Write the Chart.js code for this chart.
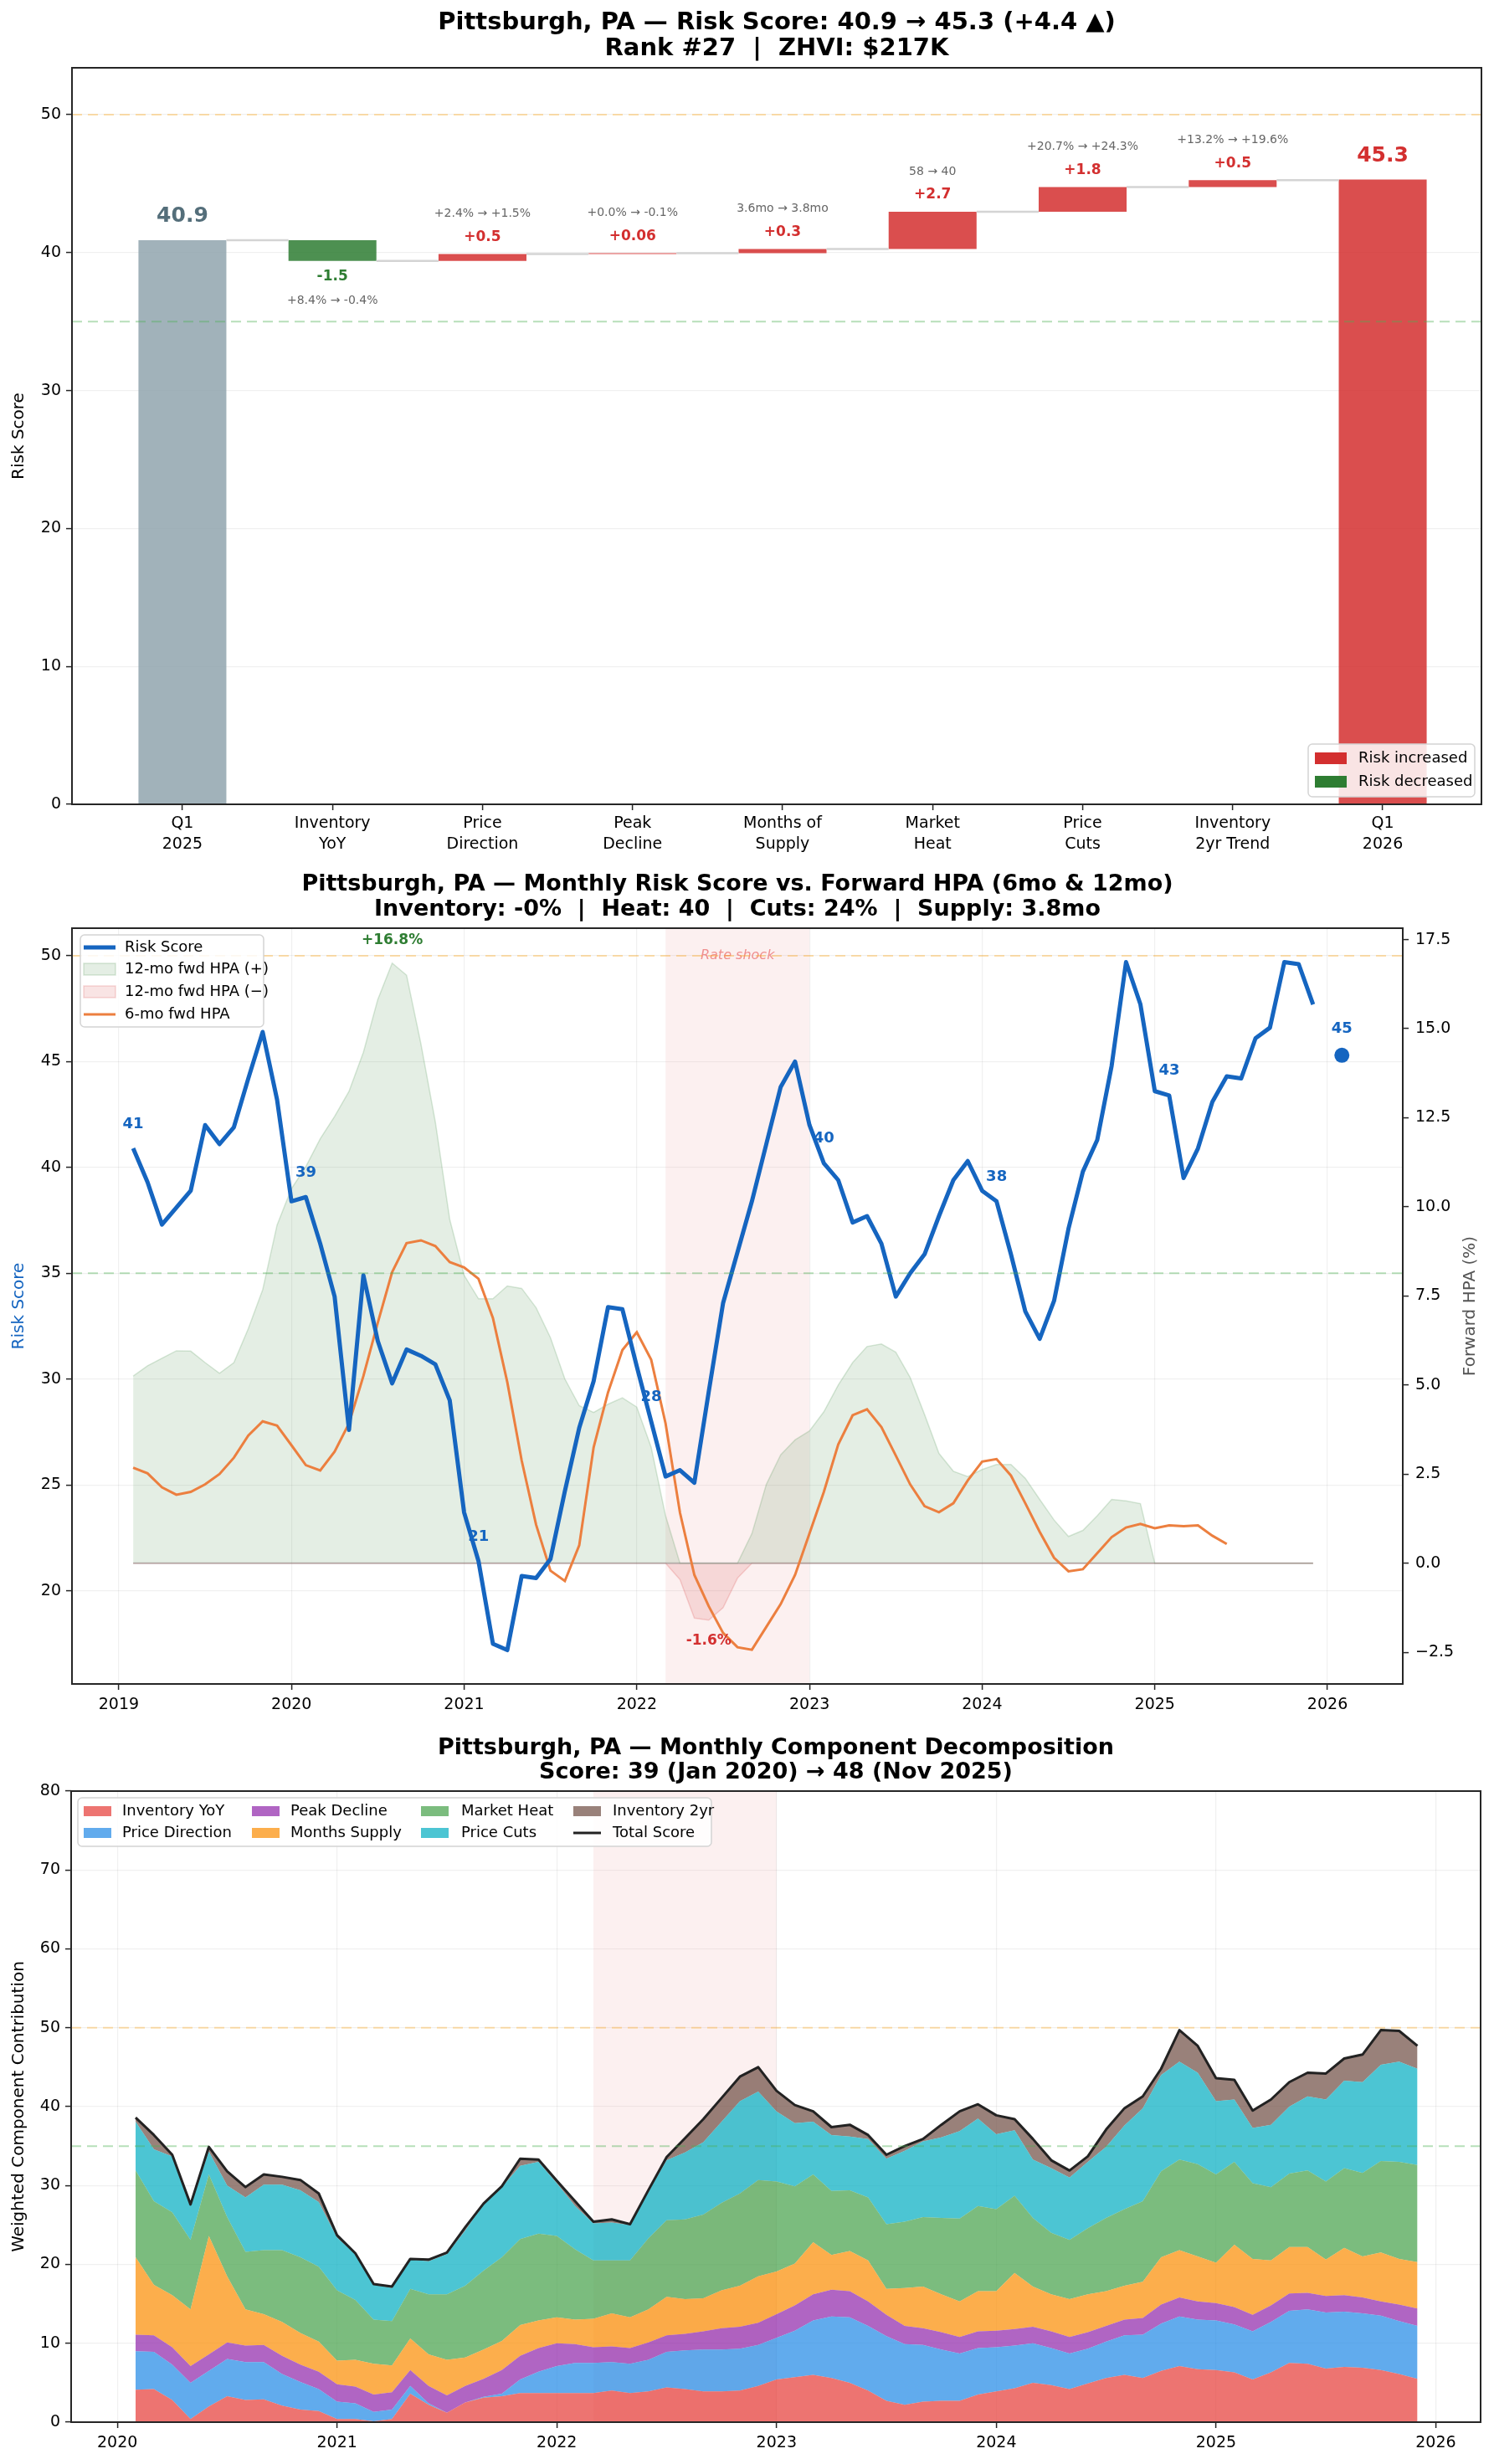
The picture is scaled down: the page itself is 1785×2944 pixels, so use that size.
<!DOCTYPE html>
<html>
<head>
<meta charset="utf-8">
<script src="https://cdn.jsdelivr.net/npm/chart.js@4.4.1/dist/chart.umd.min.js"></script>
<style>
  html, body { margin: 0; padding: 0; background: #fff; }
  #wrap { position: relative; width: 1785px; height: 2944px; }
  canvas { position: absolute; left: 0; }
</style>
</head>
<body>
<div id="wrap">
  <canvas id="waterfall" width="1785" height="1030" style="top:0"></canvas>
  <canvas id="history" width="1785" height="1035" style="top:1030px"></canvas>
  <canvas id="components" width="1785" height="879" style="top:2065px"></canvas>
</div>
<script>
// ---------- waterfall: Q1 2025 -> Q1 2026 ----------
const metro = 'Pittsburgh, PA';
const startScore = 40.9;
const endScore = 45.3;
const stepNames = [['Q1', '2025'], ['Inventory', 'YoY'], ['Price', 'Direction'], ['Peak', 'Decline'],
  ['Months of', 'Supply'], ['Market', 'Heat'], ['Price', 'Cuts'], ['Inventory', '2yr Trend'], ['Q1', '2026']];
const stepDeltas = [-1.5, 0.5, 0.06, 0.3, 2.7, 1.8, 0.5];
const stepNotes = ['+8.4% → -0.4%', '+2.4% → +1.5%', '+0.0% → -0.1%', '3.6mo → 3.8mo',
  '58 → 40', '+20.7% → +24.3%', '+13.2% → +19.6%'];

// ---------- monthly history, Jan 2019 .. Nov 2025 ----------
const firstYear = 2019;
const riskScore = [40.9, 39.3, 37.3, 38.1, 38.9, 42.0, 41.1, 41.9, 44.2, 46.4,
  43.2, 38.4, 38.6, 36.4, 33.9, 27.6, 34.9, 31.8, 29.8, 31.4,
  31.1, 30.7, 29.0, 23.7, 21.4, 17.5, 17.2, 20.7, 20.6, 21.5,
  24.7, 27.7, 29.9, 33.4, 33.3, 30.6, 28.0, 25.4, 25.7, 25.1,
  29.4, 33.6, 36.0, 38.4, 41.1, 43.8, 45.0, 42.0, 40.2, 39.4,
  37.4, 37.7, 36.4, 33.9, 35.0, 35.9, 37.7, 39.4, 40.3, 38.9,
  38.4, 35.9, 33.2, 31.9, 33.7, 37.1, 39.8, 41.3, 44.8, 49.7,
  47.7, 43.6, 43.4, 39.5, 40.9, 43.1, 44.3, 44.2, 46.1, 46.6,
  49.7, 49.6, 47.7];
// 12-month forward HPA (%), zero once the forward window runs past the data
const hpa12 = [5.25, 5.54, 5.75, 5.96, 5.95, 5.63, 5.33, 5.63, 6.58, 7.67,
  9.49, 10.51, 11.13, 11.91, 12.54, 13.24, 14.34, 15.82, 16.84, 16.5,
  14.57, 12.38, 9.65, 8.08, 7.42, 7.42, 7.78, 7.71, 7.17, 6.33,
  5.17, 4.42, 4.23, 4.46, 4.64, 4.38, 3.25, 1.33, -0.46, -1.54,
  -1.6, -1.25, -0.42, 0.83, 2.21, 3.04, 3.46, 3.71, 4.25, 5.0,
  5.63, 6.08, 6.15, 5.92, 5.21, 4.17, 3.08, 2.58, 2.43, 2.63,
  2.77, 2.77, 2.38, 1.79, 1.21, 0.75, 0.92, 1.33, 1.79, 1.75,
  1.67, 0, 0, 0, 0, 0, 0, 0, 0, 0,
  0, 0, 0];
const hpa6 = [2.68, 2.52, 2.13, 1.92, 2.0, 2.21, 2.5, 2.96, 3.58, 3.98,
  3.86, 3.31, 2.75, 2.6, 3.13, 3.92, 5.25, 6.75, 8.17, 8.98,
  9.06, 8.9, 8.45, 8.3, 7.98, 6.88, 5.08, 2.88, 1.08, -0.21,
  -0.5, 0.5, 3.25, 4.79, 5.98, 6.48, 5.71, 3.92, 1.42, -0.33,
  -1.21, -1.96, -2.36, -2.43, -1.79, -1.15, -0.33, 0.83, 2.0, 3.33,
  4.15, 4.32, 3.82, 3.02, 2.21, 1.6, 1.43, 1.68, 2.32, 2.85,
  2.92, 2.46, 1.68, 0.88, 0.15, -0.23, -0.17, 0.28, 0.73, 1.0,
  1.1, 0.98, 1.06, 1.04, 1.06, 0.77, 0.54];
const currentMonth = { year: 2026, month: 1 };
const currentScore = 45.3;
const rateShock = { from: { year: 2022, month: 3 }, to: { year: 2023, month: 1 } };

// ---------- weighted components, Jan 2020 .. Nov 2025 ----------
const componentStart = 12; // months after Jan 2019
const inventoryYoY = [4.1, 4.2, 2.8, 0.4, 2.0, 3.3, 2.8, 2.9, 2.1, 1.6, 1.4, 0.4, 0.4, 0.1, 0.4, 3.6, 2.2, 1.2,
  2.5, 3.1, 3.3, 3.7, 3.7, 3.7, 3.7, 3.7, 4.0, 3.7, 3.9, 4.4, 4.2, 3.9, 3.9,
  4.0, 4.6, 5.4, 5.7, 6.0, 5.6, 5.0, 4.0, 2.7, 2.2, 2.6, 2.7, 2.7, 3.5, 3.9, 4.3, 5.0, 4.7, 4.2,
  4.9, 5.6, 6.0, 5.6, 6.5, 7.1, 6.7, 6.6, 6.3, 5.4, 6.3, 7.5, 7.4, 6.8, 7.0, 6.9, 6.6, 6.1, 5.5];
const priceDirection = [4.9, 4.7, 4.5, 4.6, 4.5, 4.7, 4.8, 4.7, 4.0, 3.5, 2.8, 2.2, 2.0, 1.2, 1.2, 1.0, 0.2, 0.0,
  0.0, 0.1, 0.3, 1.7, 2.7, 3.4, 3.8, 3.8, 3.6, 3.7, 4.0, 4.5, 4.9, 5.3, 5.3,
  5.3, 5.2, 5.3, 5.9, 6.9, 7.8, 8.3, 8.2, 8.2, 7.7, 7.2, 6.5, 6.0, 5.9, 5.6, 5.4, 5.0, 4.7, 4.5,
  4.4, 4.6, 5.0, 5.5, 6.0, 6.3, 6.3, 6.3, 6.1, 6.1, 6.4, 6.6, 6.9, 7.1, 7.0, 6.9, 6.9, 6.7, 6.7];
const peakDecline = [2.1, 2.1, 2.2, 2.1, 2.1, 2.1, 2.1, 2.2, 2.3, 2.2, 2.2, 2.2, 2.1, 2.2, 2.2, 2.0, 2.2, 2.2,
  2.1, 2.3, 3.0, 3.0, 3.0, 2.9, 2.4, 2.0, 2.0, 2.0, 2.2, 2.1, 2.1, 2.3, 2.7,
  2.8, 2.8, 3.0, 3.2, 3.3, 3.4, 3.3, 3.1, 2.7, 2.3, 2.1, 2.2, 2.1, 2.1, 2.1, 2.1, 2.1, 2.1, 2.1,
  2.1, 2.0, 2.0, 2.1, 2.4, 2.4, 2.3, 2.2, 2.2, 2.1, 2.1, 2.2, 2.1, 2.1, 2.1, 2.0, 1.8, 2.1, 2.2];
const monthsSupply = [9.8, 6.4, 6.6, 7.2, 15.0, 8.4, 4.6, 3.9, 4.3, 4.0, 3.8, 3.0, 3.4, 3.9, 3.4, 4.0, 4.0, 4.5,
  3.6, 3.7, 3.7, 3.9, 3.5, 3.3, 3.1, 3.6, 4.2, 3.9, 4.2, 4.9, 4.4, 4.2, 4.8,
  5.2, 5.9, 5.4, 5.3, 6.6, 4.4, 5.1, 5.2, 3.3, 4.8, 5.3, 4.8, 4.5, 5.1, 5.0, 7.1, 5.1, 4.7, 4.8,
  4.8, 4.4, 4.3, 4.6, 6.0, 6.0, 5.7, 5.1, 7.9, 7.1, 5.7, 5.9, 5.8, 4.6, 6.0, 5.2, 6.2, 5.8, 5.9];
const marketHeat = [11.0, 10.6, 10.5, 8.8, 7.8, 7.5, 7.3, 8.1, 9.1, 9.6, 9.5, 8.9, 7.6, 5.6, 5.6, 6.3, 7.6, 8.3,
  9.1, 10.0, 10.6, 10.9, 11.0, 10.3, 8.9, 7.4, 6.7, 7.2, 9.0, 9.7, 10.1, 10.6, 11.1,
  11.7, 12.2, 11.4, 9.8, 8.6, 8.1, 7.7, 8.0, 8.2, 8.4, 8.8, 9.7, 10.5, 10.8, 10.4, 9.8, 8.7, 7.8, 7.5,
  8.4, 9.3, 9.7, 10.2, 10.9, 11.5, 11.7, 11.2, 10.5, 9.6, 9.3, 9.3, 9.7, 9.9, 10.1, 10.6, 11.6, 12.3, 12.3];
const priceCuts = [6.2, 6.6, 7.1, 4.5, 2.9, 4.0, 6.9, 8.3, 8.3, 8.5, 8.2, 6.7, 5.8, 4.4, 4.2, 3.7, 4.2, 5.1,
  7.0, 8.4, 8.9, 9.3, 9.1, 6.7, 5.5, 4.7, 4.8, 4.5, 5.9, 7.6, 8.5, 9.2, 10.3,
  11.7, 11.2, 8.9, 8.0, 6.7, 7.1, 6.8, 7.4, 8.3, 9.0, 9.6, 10.2, 11.1, 11.1, 9.5, 8.3, 7.4, 8.2, 7.9,
  8.4, 9.0, 10.6, 11.8, 12.2, 12.4, 11.6, 9.3, 7.9, 7.0, 7.9, 8.5, 9.4, 10.4, 11.1, 11.5, 12.2, 12.7, 12.2];
const inventory2yr = [0.6, 1.8, 0.2, 0.0, 0.6, 1.8, 1.3, 1.3, 1.0, 1.3, 1.1, 0.3, 0.1, 0.1, 0.2, 0.1, 0.2, 0.2,
  0.4, 0.1, 0.1, 0.9, 0.3, 0.3, 0.6, 0.2, 0.4, 0.1, 0.2, 0.4, 1.8, 2.9, 3.0,
  3.1, 3.1, 2.6, 2.4, 1.3, 1.1, 1.4, 0.5, 0.5, 0.6, 0.4, 1.6, 2.4, 1.8, 2.3, 1.4, 2.5, 1.0, 0.8,
  0.7, 2.3, 2.2, 1.5, 0.8, 4.1, 3.3, 2.9, 2.5, 2.2, 3.2, 3.1, 3.1, 3.4, 2.8, 3.5, 4.3, 4.0, 2.8];

// ---------- styling helpers ----------
const FAMILY = '"DejaVu Sans", sans-serif';
const AXIS = '#262626';
const GRID = 'rgba(0,0,0,0.06)';
const UP = '#d32f2f';
const DOWN = '#2e7d32';
const BLUE = '#1565c0';
const ORANGE = '#ec7f3f';
const SHOCK = 'rgba(211,47,47,0.075)';
Chart.defaults.font.family = FAMILY;
Chart.defaults.color = '#000';

const monthX = (i) => firstYear + (i + 1) / 12;   // month-end as decimal year
const ymX = (d) => d.year + (d.month - 1) / 12;

function put(ctx, str, x, y, size, color, weight = 'normal', align = 'center', style = 'normal') {
  ctx.save();
  ctx.font = `${style} ${weight} ${size}px ${FAMILY}`;
  ctx.fillStyle = color;
  ctx.textAlign = align;
  ctx.textBaseline = 'middle';
  ctx.fillText(str, x, y);
  ctx.restore();
}

function thresholds(ctx, a, y) {
  [[50, 'rgba(255,160,0,0.32)'], [35, 'rgba(76,175,80,0.4)']].forEach(([v, c]) => {
    const py = y.getPixelForValue(v);
    ctx.save();
    ctx.strokeStyle = c;
    ctx.lineWidth = 2;
    ctx.setLineDash([12, 7]);
    ctx.beginPath();
    ctx.moveTo(a.left, py);
    ctx.lineTo(a.right, py);
    ctx.stroke();
    ctx.restore();
  });
}

function legendBox(ctx, x, y, w, h) {
  ctx.save();
  ctx.beginPath();
  ctx.roundRect(x, y, w, h, 5);
  ctx.fillStyle = 'rgba(255,255,255,0.85)';
  ctx.fill();
  ctx.strokeStyle = '#d4d4d4';
  ctx.lineWidth = 1.5;
  ctx.stroke();
  ctx.restore();
}

function legendItem(ctx, item, x, y, w, h, tx) {
  ctx.save();
  if (item.line) {
    ctx.strokeStyle = item.line;
    ctx.lineWidth = item.width;
    ctx.beginPath();
    ctx.moveTo(x, y);
    ctx.lineTo(x + w, y);
    ctx.stroke();
  } else {
    ctx.fillStyle = item.fill;
    ctx.fillRect(x, y - h / 2, w, h);
    if (item.edge) {
      ctx.strokeStyle = item.edge;
      ctx.lineWidth = 1.5;
      ctx.strokeRect(x, y - h / 2, w, h);
    }
  }
  ctx.restore();
  put(ctx, item.label, tx, y, 18, '#000', 'normal', 'left');
}

const frame = {
  id: 'frame',
  afterDraw(chart) {
    const { ctx, chartArea: a } = chart;
    ctx.save();
    ctx.strokeStyle = AXIS;
    ctx.lineWidth = 2;
    ctx.strokeRect(a.left, a.top, a.right - a.left, a.bottom - a.top);
    ctx.restore();
  }
};

function titles(lines, ys, size = 27) {
  return {
    id: 'titles',
    afterDraw(chart) {
      const a = chart.chartArea;
      lines.forEach((t, i) => put(chart.ctx, t, (a.left + a.right) / 2, ys[i], size, '#000', 'bold'));
    }
  };
}

const grid = (onArea) => ({ drawOnChartArea: onArea, color: GRID, lineWidth: 1.2, tickLength: 7, tickColor: AXIS, tickWidth: 1.5 });
const tickFont = { family: FAMILY, size: 19 };
const base = {
  responsive: false,
  animation: false,
  devicePixelRatio: 1,
  events: [],
};
const noLegend = { legend: { display: false }, tooltip: { enabled: false } };

// ---------- chart 1: waterfall ----------
const waterfall = [{ x: 0, y: [0, startScore] }];
const barColors = ['rgba(144,164,174,0.85)'];
let running = startScore;
stepDeltas.forEach((d, i) => {
  waterfall.push({ x: i + 1, y: [running, running + d] });
  barColors.push(d >= 0 ? 'rgba(211,47,47,0.85)' : 'rgba(46,125,50,0.85)');
  running += d;
});
waterfall.push({ x: stepNames.length - 1, y: [0, endScore] });
barColors.push('rgba(211,47,47,0.85)');

const waterfallDecor = {
  id: 'waterfallDecor',
  afterDatasetsDraw(chart) {
    const { ctx, chartArea: a, scales: { y } } = chart;
    thresholds(ctx, a, y);
    const bars = chart.getDatasetMeta(0).data;
    ctx.save();
    ctx.strokeStyle = '#d4d4d4';
    ctx.lineWidth = 2.5;
    for (let i = 0; i < bars.length - 1; i++) {
      const py = y.getPixelForValue(waterfall[i].y[1]);
      ctx.beginPath();
      ctx.moveTo(bars[i].x + bars[i].width / 2, py);
      ctx.lineTo(bars[i + 1].x - bars[i + 1].width / 2, py);
      ctx.stroke();
    }
    ctx.restore();
    bars.forEach((bar, i) => {
      const top = Math.min(bar.y, bar.base), bottom = Math.max(bar.y, bar.base);
      if (i === 0) {
        put(ctx, startScore.toFixed(1), bar.x, top - 28, 25, '#546e7a', 'bold');
      } else if (i === bars.length - 1) {
        put(ctx, endScore.toFixed(1), bar.x, top - 28, 25, UP, 'bold');
      } else {
        const d = stepDeltas[i - 1];
        const label = (d > 0 ? '+' : '') + d;
        if (d >= 0) {
          put(ctx, label, bar.x, top - 20, 17, UP, 'bold');
          put(ctx, stepNotes[i - 1], bar.x, top - 48, 14, '#666');
        } else {
          put(ctx, label, bar.x, bottom + 19, 17, DOWN, 'bold');
          put(ctx, stepNotes[i - 1], bar.x, bottom + 48, 14, '#666');
        }
      }
    });
    const lx = a.right - 207, ly = a.bottom - 72;
    legendBox(ctx, lx, ly, 199, 63);
    legendItem(ctx, { label: 'Risk increased', fill: UP }, lx + 8, ly + 17, 38, 14, lx + 60);
    legendItem(ctx, { label: 'Risk decreased', fill: DOWN }, lx + 8, ly + 45, 38, 14, lx + 60);
  }
};

new Chart(document.getElementById('waterfall'), {
  type: 'bar',
  data: {
    datasets: [{
      data: waterfall,
      backgroundColor: barColors,
      borderWidth: 0,
      barPercentage: 0.586,
      categoryPercentage: 1
    }]
  },
  options: {
    ...base,
    layout: { padding: { left: 0, right: 15, top: 81, bottom: 0 } },
    plugins: noLegend,
    scales: {
      x: {
        type: 'linear', min: -0.736, max: 8.658, offset: false,
        afterFit: (s) => { s.height = 69; },
        grid: { ...grid(false), offset: false },
        border: { display: false },
        ticks: {
          stepSize: 1, includeBounds: false, autoSkip: false, maxRotation: 0, minRotation: 0, padding: 4,
          color: '#000', font: { ...tickFont, lineHeight: 1.3 },
          callback: (v) => stepNames[v] || ''
        }
      },
      y: {
        min: 0, max: 53.4,
        afterFit: (s) => { s.width = 86; },
        grid: grid(true),
        border: { display: false },
        ticks: { stepSize: 10, includeBounds: false, padding: 6, color: '#000', font: tickFont },
        title: { display: true, text: 'Risk Score', color: '#000', font: { family: FAMILY, size: 20 }, padding: { top: 11, bottom: 0 } }
      }
    }
  },
  plugins: [waterfallDecor, frame,
    titles([`${metro} — Risk Score: ${startScore} → ${endScore} (+${(endScore - startScore).toFixed(1)} ▲)`,
      'Rank #27  |  ZHVI: $217K'], [27, 58], 29)]
});

// ---------- chart 2: monthly risk score vs forward HPA ----------
const historyX = riskScore.map((_, i) => monthX(i));
const pts = (arr, xs) => arr.map((v, i) => ({ x: xs[i], y: v }));
const currentX = ymX(currentMonth) + 1 / 12;

const historyDecor = {
  id: 'historyDecor',
  beforeDatasetsDraw(chart) {
    const { ctx, chartArea: a, scales: { x } } = chart;
    const x0 = x.getPixelForValue(ymX(rateShock.from)), x1 = x.getPixelForValue(ymX(rateShock.to));
    ctx.save();
    ctx.fillStyle = SHOCK;
    ctx.fillRect(x0, a.top, x1 - x0, a.bottom - a.top);
    ctx.restore();
    put(ctx, 'Rate shock', (x0 + x1) / 2, a.top + 33, 16, '#ef8f8f', 'normal', 'center', 'italic');
  },
  afterDatasetsDraw(chart) {
    const { ctx, chartArea: a, scales: { x, y, y1 } } = chart;
    thresholds(ctx, a, y);
    for (let m = 0; m < riskScore.length; m += 12) {
      put(ctx, String(Math.round(riskScore[m])), x.getPixelForValue(historyX[m]),
        y.getPixelForValue(riskScore[m]) - 29, 18, BLUE, 'bold');
    }
    put(ctx, String(Math.round(currentScore)), x.getPixelForValue(currentX), y.getPixelForValue(currentScore) - 31, 18, BLUE, 'bold');
    const hi = hpa12.indexOf(Math.max(...hpa12)), lo = hpa12.indexOf(Math.min(...hpa12));
    put(ctx, '+' + hpa12[hi].toFixed(1) + '%', x.getPixelForValue(historyX[hi]), y1.getPixelForValue(hpa12[hi]) - 27, 17, DOWN, 'bold');
    put(ctx, hpa12[lo].toFixed(1) + '%', x.getPixelForValue(historyX[lo]), y1.getPixelForValue(hpa12[lo]) + 25, 17, UP, 'bold');

    const lx = a.left + 10, ly = a.top + 8;
    legendBox(ctx, lx, ly, 219, 110);
    legendItem(ctx, { label: 'Risk Score', line: BLUE, width: 5 }, lx + 4, ly + 15, 38, 0, lx + 53);
    legendItem(ctx, { label: '12-mo fwd HPA (+)', fill: 'rgba(46,125,50,0.13)', edge: 'rgba(46,125,50,0.18)' }, lx + 4, ly + 41, 38, 14, lx + 53);
    legendItem(ctx, { label: '12-mo fwd HPA (−)', fill: 'rgba(211,47,47,0.13)', edge: 'rgba(211,47,47,0.18)' }, lx + 4, ly + 68, 38, 14, lx + 53);
    legendItem(ctx, { label: '6-mo fwd HPA', line: ORANGE, width: 3 }, lx + 4, ly + 95, 38, 0, lx + 53);
  },
  afterDraw(chart) {
    const { ctx, chartArea: a } = chart;
    ctx.save();
    ctx.translate(1757, (a.top + a.bottom) / 2);
    ctx.rotate(-Math.PI / 2);
    put(ctx, 'Forward HPA (%)', 0, 0, 20, '#555');
    ctx.restore();
  }
};

new Chart(document.getElementById('history'), {
  type: 'line',
  data: {
    datasets: [
      { label: 'Risk Score', data: pts(riskScore, historyX), yAxisID: 'y', borderColor: BLUE, borderWidth: 5,
        borderJoinStyle: 'round', pointRadius: 0, order: 0 },
      { label: 'Now', data: [{ x: currentX, y: currentScore }], yAxisID: 'y', showLine: false,
        pointRadius: 9, pointBackgroundColor: BLUE, pointBorderWidth: 0, order: 0 },
      { label: '6-mo fwd HPA', data: pts(hpa6, historyX), yAxisID: 'y1', borderColor: ORANGE, borderWidth: 3,
        pointRadius: 0, order: 1 },
      { label: 'zero', data: [{ x: historyX[0], y: 0 }, { x: historyX[historyX.length - 1], y: 0 }], yAxisID: 'y1',
        borderColor: 'rgba(90,90,90,0.35)', borderWidth: 2, pointRadius: 0, order: 2 },
      { label: '12-mo fwd HPA (−)', data: pts(hpa12.map((v) => Math.min(v, 0)), historyX), yAxisID: 'y1',
        fill: { value: 0 }, backgroundColor: 'rgba(211,47,47,0.13)', borderColor: 'rgba(211,47,47,0.18)',
        borderWidth: 1.5, pointRadius: 0, order: 3 },
      { label: '12-mo fwd HPA (+)', data: pts(hpa12.map((v) => Math.max(v, 0)), historyX), yAxisID: 'y1',
        fill: { value: 0 }, backgroundColor: 'rgba(46,125,50,0.13)', borderColor: 'rgba(46,125,50,0.18)',
        borderWidth: 1.5, pointRadius: 0, order: 4 }
    ]
  },
  options: {
    ...base,
    layout: { padding: { left: 0, right: 0, top: 79, bottom: 0 } },
    plugins: noLegend,
    scales: {
      x: {
        type: 'linear', min: 2018.729, max: 2026.436,
        afterFit: (s) => { s.height = 53; },
        grid: grid(true),
        border: { display: false },
        ticks: { stepSize: 1, includeBounds: false, maxRotation: 0, padding: 7, color: '#000', font: tickFont,
          callback: (v) => String(v) }
      },
      y: {
        position: 'left', min: 15.6, max: 51.3,
        afterFit: (s) => { s.width = 86; },
        grid: grid(true),
        border: { display: false },
        ticks: { stepSize: 5, includeBounds: false, padding: 6, color: '#000', font: tickFont },
        title: { display: true, text: 'Risk Score', color: BLUE, font: { family: FAMILY, size: 20 }, padding: { top: 11, bottom: 0 } }
      },
      y1: {
        position: 'right', min: -3.39, max: 17.82,
        afterFit: (s) => { s.width = 109; },
        grid: grid(false),
        border: { display: false },
        ticks: { stepSize: 2.5, includeBounds: false, padding: 8, color: '#000', font: tickFont,
          callback: (v) => (v < 0 ? '−' : '') + Math.abs(v).toFixed(1) }
      }
    }
  },
  plugins: [historyDecor, frame,
    titles([`${metro} — Monthly Risk Score vs. Forward HPA (6mo & 12mo)`,
      'Inventory: -0%  |  Heat: 40  |  Cuts: 24%  |  Supply: 3.8mo'], [27, 57])]
});

// ---------- chart 3: component decomposition ----------
const componentX = inventoryYoY.map((_, i) => monthX(i + componentStart));
const totalScore = riskScore.slice(componentStart);
const components = [
  { label: 'Inventory YoY', values: inventoryYoY, rgb: '229,57,53' },
  { label: 'Price Direction', values: priceDirection, rgb: '30,136,229' },
  { label: 'Peak Decline', values: peakDecline, rgb: '142,36,170' },
  { label: 'Months Supply', values: monthsSupply, rgb: '251,140,0' },
  { label: 'Market Heat', values: marketHeat, rgb: '67,160,71' },
  { label: 'Price Cuts', values: priceCuts, rgb: '0,172,193' },
  { label: 'Inventory 2yr', values: inventory2yr, rgb: '109,76,65' }
];

const componentDecor = {
  id: 'componentDecor',
  beforeDatasetsDraw(chart) {
    const { ctx, chartArea: a, scales: { x } } = chart;
    const x0 = x.getPixelForValue(ymX(rateShock.from)), x1 = x.getPixelForValue(ymX(rateShock.to));
    ctx.save();
    ctx.fillStyle = SHOCK;
    ctx.fillRect(x0, a.top, x1 - x0, a.bottom - a.top);
    ctx.restore();
  },
  afterDatasetsDraw(chart) {
    const { ctx, chartArea: a, scales: { y } } = chart;
    thresholds(ctx, a, y);
    const lx = a.left + 8, ly = a.top + 8;
    legendBox(ctx, lx, ly, 757, 58);
    const handleX = [7, 208, 410, 592], textX = [53, 254, 458, 639];
    const items = components.map((c) => ({ label: c.label, fill: `rgba(${c.rgb},0.7)` }));
    items.push({ label: 'Total Score', line: '#222', width: 3 });
    items.forEach((it, i) => {
      const col = Math.floor(i / 2), row = i % 2;
      legendItem(ctx, it, lx + handleX[col], ly + 16 + row * 26, 33, 12, lx + textX[col]);
    });
  }
};

new Chart(document.getElementById('components'), {
  type: 'line',
  data: {
    datasets: [
      ...components.map((c, i) => ({
        label: c.label,
        data: pts(c.values, componentX),
        backgroundColor: `rgba(${c.rgb},0.7)`,
        borderColor: 'rgba(0,0,0,0)',
        borderWidth: 0,
        pointRadius: 0,
        fill: i === 0 ? 'origin' : '-1',
        stack: 'parts',
        order: 1
      })),
      { label: 'Total Score', data: pts(totalScore, componentX), borderColor: '#222', borderWidth: 3,
        borderJoinStyle: 'round', pointRadius: 0, fill: false, stack: 'total', order: 0 }
    ]
  },
  options: {
    ...base,
    layout: { padding: { left: 0, right: 16, top: 75, bottom: 0 } },
    plugins: noLegend,
    scales: {
      x: {
        type: 'linear', min: 2019.79, max: 2026.204,
        afterFit: (s) => { s.height = 50; },
        grid: grid(true),
        border: { display: false },
        ticks: { stepSize: 1, includeBounds: false, maxRotation: 0, padding: 7, color: '#000', font: tickFont,
          callback: (v) => String(v) }
      },
      y: {
        stacked: true, min: 0, max: 80,
        afterFit: (s) => { s.width = 85; },
        grid: grid(true),
        border: { display: false },
        ticks: { stepSize: 10, padding: 6, color: '#000', font: tickFont },
        title: { display: true, text: 'Weighted Component Contribution', color: '#000', font: { family: FAMILY, size: 20 }, padding: { top: 11, bottom: 0 } }
      }
    }
  },
  plugins: [componentDecor, frame,
    titles([`${metro} — Monthly Component Decomposition`,
      `Score: ${Math.round(totalScore[0])} (Jan 2020) → ${Math.round(totalScore[totalScore.length - 1])} (Nov 2025)`], [24, 53])]
});
</script>
</body>
</html>
